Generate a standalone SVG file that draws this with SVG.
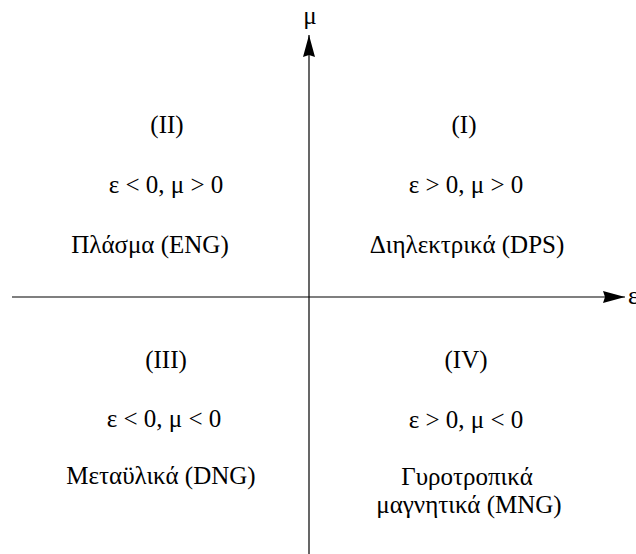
<svg xmlns="http://www.w3.org/2000/svg" width="636" height="554" viewBox="0 0 636 554">
<style>
text{font-family:"Liberation Serif","Times New Roman",serif;font-size:25px;fill:#000;text-anchor:middle}
.ax{stroke:#000;stroke-width:1.2;fill:none}
</style>
<defs>
<marker id="ah" markerWidth="22" markerHeight="14" refX="22" refY="7" orient="auto" markerUnits="userSpaceOnUse">
<path d="M0,1 L22,7 L0,13 L2,7 Z" fill="#000"/>
</marker>
</defs>
<rect width="636" height="554" fill="#fff"/>
<g id="connectors">
<line class="ax" x1="309" y1="554" x2="309" y2="35" marker-end="url(#ah)"/>
<line class="ax" x1="12" y1="297" x2="625" y2="297" marker-end="url(#ah)"/>
</g>
<g id="axis-mu"><text x="310" y="24" font-family="Liberation Serif" font-size="22">μ</text></g>
<g id="axis-eps"><text x="628" y="304" style="text-anchor:start" font-family="Liberation Serif" font-size="22">ε</text></g>
<g id="q2">
<text x="167" y="133" font-family="Liberation Serif">(II)</text>
<text x="166" y="193" font-family="Liberation Serif">ε &lt; 0, μ &gt; 0</text>
<text x="150" y="253" font-family="Liberation Serif">Πλάσμα (ENG)</text>
</g>
<g id="q1">
<text x="464" y="133" font-family="Liberation Serif">(I)</text>
<text x="466" y="193" font-family="Liberation Serif">ε &gt; 0, μ &gt; 0</text>
<text x="467" y="253" font-family="Liberation Serif">Διηλεκτρικά (DPS)</text>
</g>
<g id="q3">
<text x="166" y="368" font-family="Liberation Serif">(III)</text>
<text x="164" y="427" font-family="Liberation Serif">ε &lt; 0, μ &lt; 0</text>
<text x="161" y="484" font-family="Liberation Serif">Μεταϋλικά (DNG)</text>
</g>
<g id="q4">
<text x="466" y="368" font-family="Liberation Serif">(IV)</text>
<text x="466" y="428" font-family="Liberation Serif">ε &gt; 0, μ &lt; 0</text>
<text x="467" y="485" font-family="Liberation Serif">Γυροτροπικά</text>
<text x="469" y="513" font-family="Liberation Serif">μαγνητικά (MNG)</text>
</g>
</svg>
